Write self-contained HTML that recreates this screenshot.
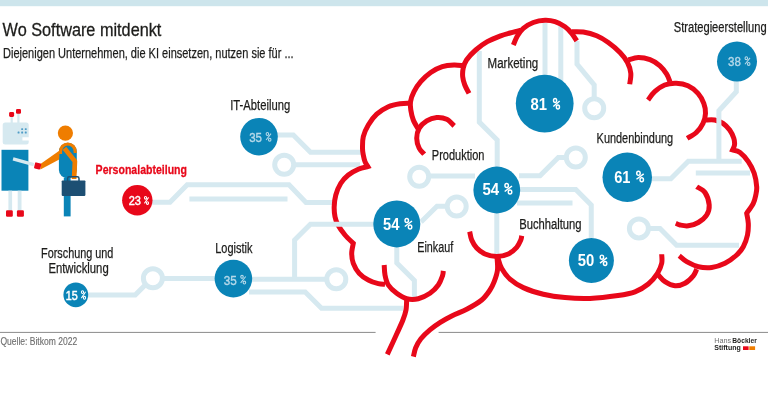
<!DOCTYPE html><html><head><meta charset="utf-8"><title>Wo Software mitdenkt</title>
<style>html,body{margin:0;padding:0;background:#fff}body{width:768px;height:402px;overflow:hidden}svg{display:block;will-change:transform}text{font-family:"Liberation Sans",sans-serif}</style></head><body>
<svg width="768" height="402" viewBox="0 0 768 402">
<rect width="768" height="402" fill="#fff"/>
<rect width="768" height="6.2" fill="#cde5ec"/>
<path d="M0,332.4 H375.6 M438.6,332.4 H768" stroke="#8a8a8a" stroke-width="1" fill="none"/>
<g fill="none" stroke="#d6e9f0" stroke-width="5.0" stroke-linejoin="miter">
<path d="M277,135 H293.3 L310.5,152.2 H361"/>
<path d="M293,164.7 H360"/>
<path d="M152,202.2 H170 L187.2,184.7 H289 L306,202.5 H333.5"/>
<path d="M189.4,198.9 H287.5"/>
<path d="M88,295 H135.2 L146.2,284"/>
<path d="M162.5,278.4 H216"/>
<path d="M251,279.2 H327.5"/>
<path d="M249,292 H305.2 L321.5,308.3 H403.3"/>
<path d="M428,176 H475"/>
<path d="M447.8,206.3 H437 L421,222"/>
<path d="M396.8,246 V263 L414.4,280.6 V297"/>
<path d="M497.2,168 V140 L479.3,122.1 V51"/>
<path d="M519,175.8 H540 L558.3,157.5 H567"/>
<path d="M519,189.5 H575.8 L591.25,205 V238"/>
<path d="M517,203 H572.5"/>
<path d="M496.8,212 V255"/>
<path d="M545,23 V76"/>
<path d="M560.8,24 V82"/>
<path d="M577,41 V64.2 L594.2,85 V99.5"/>
<path d="M651,178.7 H670.8 L688.3,161.2 H741.7"/>
<path d="M695.8,173 H750"/>
<path d="M647.8,228.6 H660 L676.6,245.2 H739"/>
<circle cx="284.2" cy="164.7" r="9.5"/>
<circle cx="152.9" cy="278.3" r="9.5"/>
<circle cx="336.3" cy="279.2" r="9.5"/>
<circle cx="419.2" cy="176.7" r="9.5"/>
<circle cx="456.7" cy="206.5" r="9.5"/>
<circle cx="575.8" cy="157.5" r="9.5"/>
<circle cx="594.2" cy="108.3" r="9.5"/>
<circle cx="638.9" cy="228.4" r="9.5"/>
</g>
<g fill="none" stroke="#e8081a" stroke-width="5" stroke-linecap="butt" stroke-linejoin="round">
<path d="M705.50,120.00 C707.03,120.00 711.78,119.45 714.70,120.00 C717.62,120.55 720.50,121.63 723.00,123.30 C725.50,124.97 727.90,127.50 729.70,130.00 C731.50,132.50 733.00,135.80 733.80,138.30 C734.60,140.80 734.72,143.05 734.50,145.00 C734.28,146.95 732.83,149.17 732.50,150.00 C733.75,150.42 737.37,150.55 740.00,152.50 C742.63,154.45 745.93,158.23 748.30,161.70 C750.67,165.17 752.80,169.13 754.20,173.30 C755.60,177.47 756.43,183.08 756.70,186.70 C756.97,190.32 756.37,192.23 755.80,195.00 C755.23,197.77 754.82,200.25 753.30,203.30 C751.78,206.35 747.80,211.63 746.70,213.30 C746.97,214.97 748.17,219.68 748.30,223.30 C748.43,226.92 748.33,231.10 747.50,235.00 C746.67,238.90 745.10,243.37 743.30,246.70 C741.50,250.03 739.75,252.23 736.70,255.00 C733.65,257.77 729.17,261.22 725.00,263.30 C720.83,265.38 716.15,266.93 711.70,267.50 C707.25,268.07 702.47,267.67 698.30,266.70 C694.13,265.73 689.88,263.52 686.70,261.70 C683.52,259.88 680.45,256.78 679.20,255.80" stroke-linejoin="miter" stroke-miterlimit="2"/>
<path d="M410.00,103.30 C408.33,103.37 403.62,103.13 400.00,103.70 C396.38,104.27 392.18,104.95 388.30,106.70 C384.42,108.45 380.03,111.15 376.70,114.20 C373.37,117.25 370.53,121.25 368.30,125.00 C366.07,128.75 364.27,132.82 363.30,136.70 C362.33,140.58 362.50,145.25 362.50,148.30 C362.50,151.35 362.88,152.77 363.30,155.00 C363.72,157.23 364.25,159.78 365.00,161.70 C365.75,163.62 367.33,165.70 367.80,166.50 C366.22,166.95 361.55,167.78 358.30,169.20 C355.05,170.62 351.22,172.65 348.30,175.00 C345.38,177.35 342.88,179.97 340.80,183.30 C338.72,186.63 336.90,191.10 335.80,195.00 C334.70,198.90 334.33,203.08 334.20,206.70 C334.07,210.32 334.37,213.65 335.00,216.70 C335.63,219.75 336.33,221.95 338.00,225.00 C339.67,228.05 342.45,231.95 345.00,235.00 C347.55,238.05 351.92,241.92 353.30,243.30 C353.03,244.97 351.70,249.97 351.70,253.30 C351.70,256.63 352.05,259.97 353.30,263.30 C354.55,266.63 356.70,270.52 359.20,273.30 C361.70,276.08 365.12,278.27 368.30,280.00 C371.48,281.73 375.52,283.00 378.30,283.70 C381.08,284.40 383.88,284.12 385.00,284.20" stroke-linejoin="miter" stroke-miterlimit="2"/>
<path d="M469.00,93.30 C468.30,91.92 465.85,87.77 464.80,85.00 C463.75,82.23 462.97,79.48 462.70,76.70 C462.43,73.92 462.57,71.08 463.20,68.30 C463.83,65.52 464.42,63.05 466.50,60.00 C468.58,56.95 472.23,53.05 475.70,50.00 C479.17,46.95 483.13,44.07 487.30,41.70 C491.47,39.33 496.92,37.25 500.70,35.80 C504.48,34.35 507.07,33.82 510.00,33.00 C512.93,32.18 516.47,31.37 518.30,30.90 C520.13,30.43 520.55,30.32 521.00,30.20"/>
<path d="M513.30,45.00 C514.00,43.47 515.83,38.58 517.50,35.80 C519.17,33.02 520.67,30.52 523.30,28.30 C525.93,26.08 529.68,23.83 533.30,22.50 C536.92,21.17 541.38,20.43 545.00,20.30 C548.62,20.17 551.67,20.63 555.00,21.70 C558.33,22.77 562.22,24.77 565.00,26.70 C567.78,28.63 569.75,30.95 571.70,33.30 C573.65,35.65 575.87,39.55 576.70,40.80"/>
<path d="M571.70,31.70 C573.63,31.75 579.13,31.32 583.30,32.00 C587.47,32.68 592.53,34.05 596.70,35.80 C600.87,37.55 604.42,39.72 608.30,42.50 C612.18,45.28 616.80,49.17 620.00,52.50 C623.20,55.83 625.70,59.03 627.50,62.50 C629.30,65.97 630.43,69.68 630.80,73.30 C631.17,76.92 629.88,82.38 629.70,84.20"/>
<path d="M628.30,60.00 C629.97,59.58 634.68,57.55 638.30,57.50 C641.92,57.45 646.38,58.32 650.00,59.70 C653.62,61.08 657.22,63.38 660.00,65.80 C662.78,68.22 665.03,71.55 666.70,74.20 C668.37,76.85 669.45,80.45 670.00,81.70"/>
<path d="M648.00,100.00 C649.12,98.62 651.92,94.20 654.70,91.70 C657.48,89.20 661.10,86.40 664.70,85.00 C668.30,83.60 672.42,83.17 676.30,83.30 C680.18,83.43 684.38,84.13 688.00,85.80 C691.62,87.47 695.37,90.38 698.00,93.30 C700.63,96.22 702.55,99.97 703.80,103.30 C705.05,106.63 705.63,109.97 705.50,113.30 C705.37,116.63 704.53,120.10 703.00,123.30 C701.47,126.50 698.93,130.00 696.30,132.50 C693.67,135.00 688.72,137.33 687.20,138.30"/>
<path d="M696.70,186.70 C698.08,187.67 702.92,189.45 705.00,192.50 C707.08,195.55 708.92,201.25 709.20,205.00 C709.48,208.75 708.52,212.08 706.70,215.00 C704.88,217.92 701.37,220.70 698.30,222.50 C695.23,224.30 691.35,225.38 688.30,225.80 C685.25,226.22 682.08,225.42 680.00,225.00 C677.92,224.58 676.50,223.58 675.80,223.30"/>
<path d="M661.70,254.20 C661.70,255.72 662.40,260.12 661.70,263.30 C661.00,266.48 659.73,269.85 657.50,273.30 C655.27,276.75 652.05,280.92 648.30,284.00 C644.55,287.08 640.05,289.88 635.00,291.80 C629.95,293.72 625.50,294.40 618.00,295.50 C610.50,296.60 598.83,298.05 590.00,298.40 C581.17,298.75 572.78,298.30 565.00,297.60 C557.22,296.90 550.25,295.87 543.30,294.20 C536.35,292.53 528.85,290.12 523.30,287.60 C517.75,285.08 513.60,282.27 510.00,279.10 C506.40,275.93 503.70,272.12 501.70,268.60 C499.70,265.08 498.62,259.77 498.00,258.00"/>
<path d="M658.30,275.00 C659.42,276.12 662.22,279.90 665.00,281.70 C667.78,283.50 671.67,285.53 675.00,285.80 C678.33,286.07 681.95,284.97 685.00,283.30 C688.05,281.63 691.35,278.15 693.30,275.80 C695.25,273.45 696.13,270.30 696.70,269.20"/>
<path d="M469.70,231.70 C470.03,233.08 470.53,237.28 471.70,240.00 C472.87,242.72 474.48,245.67 476.70,248.00 C478.92,250.33 481.67,252.57 485.00,254.00 C488.33,255.43 492.82,256.60 496.70,256.60 C500.58,256.60 504.97,255.55 508.30,254.00 C511.63,252.45 514.62,249.63 516.70,247.30 C518.78,244.97 519.97,241.92 520.80,240.00 C521.63,238.08 521.55,236.50 521.70,235.80"/>
<path d="M497.00,257.00 C497.08,259.17 497.97,265.88 497.50,270.00 C497.03,274.12 495.45,278.37 494.20,281.70 C492.95,285.03 492.08,286.95 490.00,290.00 C487.92,293.05 485.50,296.83 481.70,300.00 C477.90,303.17 472.12,306.38 467.20,309.00 C462.28,311.62 456.68,313.47 452.20,315.70 C447.72,317.93 444.02,320.03 440.30,322.40 C436.58,324.77 433.13,327.17 429.90,329.90 C426.67,332.63 423.27,335.82 420.90,338.80 C418.53,341.78 416.95,344.82 415.70,347.80 C414.45,350.78 413.78,355.22 413.40,356.70"/>
<path d="M463.20,65.80 C461.67,65.67 457.48,64.85 454.00,65.00 C450.52,65.15 446.18,65.45 442.30,66.70 C438.42,67.95 434.30,70.00 430.70,72.50 C427.10,75.00 423.48,78.50 420.70,81.70 C417.92,84.90 415.70,88.37 414.00,91.70 C412.30,95.03 411.03,98.65 410.50,101.70 C409.97,104.75 410.33,106.95 410.80,110.00 C411.27,113.05 412.05,116.80 413.30,120.00 C414.55,123.20 417.47,127.67 418.30,129.20"/>
<path d="M454.20,125.80 C452.95,124.70 449.62,120.58 446.70,119.20 C443.78,117.82 440.03,117.23 436.70,117.50 C433.37,117.77 429.62,119.00 426.70,120.80 C423.78,122.60 420.87,125.38 419.20,128.30 C417.53,131.22 416.70,134.97 416.70,138.30 C416.70,141.63 417.95,145.65 419.20,148.30 C420.45,150.95 423.37,153.22 424.20,154.20"/>
<path d="M384.20,265.00 C384.33,266.67 384.32,271.67 385.00,275.00 C385.68,278.33 386.35,281.95 388.30,285.00 C390.25,288.05 393.63,291.02 396.70,293.30 C399.77,295.58 403.10,297.80 406.70,298.70 C410.30,299.60 414.42,299.60 418.30,298.70 C422.18,297.80 426.67,295.58 430.00,293.30 C433.33,291.02 436.22,287.92 438.30,285.00 C440.38,282.08 441.67,278.17 442.50,275.80 C443.33,273.43 443.17,271.63 443.30,270.80"/>
<path d="M406.70,299.00 C406.58,300.83 406.63,306.50 406.00,310.00 C405.37,313.50 404.43,316.04 402.90,320.00 C401.37,323.96 399.40,328.02 396.80,333.75 C394.20,339.48 388.88,350.96 387.30,354.40"/>
</g>
<g fill="none" stroke="#d6e9f0" stroke-width="5.0">
<path d="M736.3,80 V91.7 L718.9,110.8 V161.2"/>
<path d="M294.6,279.2 V240 L310.4,224.2 H375"/>
</g>
<circle cx="259" cy="136.7" r="18.8" fill="#0a84b7"/>
<text x="249.20" y="141.70" font-size="13.6" font-weight="normal" fill="#b4d8e9" stroke="#b4d8e9" stroke-width="0.4" textLength="12.80" lengthAdjust="spacingAndGlyphs">35</text>
<g fill="none" stroke="#b4d8e9" stroke-width="1.10"><ellipse cx="267.39" cy="133.97" rx="1.24" ry="1.46"/><ellipse cx="269.71" cy="139.69" rx="1.24" ry="1.46"/><path d="M271.00,133.62 L266.10,140.04"/></g>
<circle cx="137.3" cy="200.3" r="15.2" fill="#e8081a"/>
<text x="128.70" y="204.90" font-size="12.6" font-weight="normal" fill="#fff" stroke="#fff" stroke-width="0.5" textLength="12.20" lengthAdjust="spacingAndGlyphs">23</text>
<g fill="none" stroke="#fff" stroke-width="1.05"><ellipse cx="145.52" cy="197.76" rx="1.09" ry="1.35"/><ellipse cx="147.48" cy="203.02" rx="1.09" ry="1.35"/><path d="M148.60,197.41 L144.40,203.37"/></g>
<circle cx="75.8" cy="294.8" r="12.4" fill="#0a84b7"/>
<text x="65.70" y="299.80" font-size="13.5" font-weight="normal" fill="#fff" stroke="#fff" stroke-width="0.5" textLength="12.00" lengthAdjust="spacingAndGlyphs">15</text>
<g fill="none" stroke="#fff" stroke-width="1.05"><ellipse cx="82.52" cy="292.11" rx="1.09" ry="1.45"/><ellipse cx="84.48" cy="297.83" rx="1.09" ry="1.45"/><path d="M85.60,291.78 L81.40,298.16"/></g>
<circle cx="233.4" cy="278.6" r="18.8" fill="#0a84b7"/>
<text x="223.80" y="284.60" font-size="13.6" font-weight="normal" fill="#b4d8e9" stroke="#b4d8e9" stroke-width="0.4" textLength="13.00" lengthAdjust="spacingAndGlyphs">35</text>
<g fill="none" stroke="#b4d8e9" stroke-width="1.10"><ellipse cx="242.01" cy="276.87" rx="1.26" ry="1.46"/><ellipse cx="244.39" cy="282.59" rx="1.26" ry="1.46"/><path d="M245.70,276.52 L240.70,282.94"/></g>
<circle cx="396.8" cy="223.9" r="23.5" fill="#0a84b7"/>
<text x="383.00" y="229.70" font-size="16.6" font-weight="bold" fill="#fff" stroke="#fff" stroke-width="0" textLength="16.40" lengthAdjust="spacingAndGlyphs">54</text>
<g fill="none" stroke="#fff" stroke-width="1.45"><ellipse cx="406.75" cy="220.56" rx="1.72" ry="2.02"/><ellipse cx="410.05" cy="226.95" rx="1.72" ry="2.02"/><path d="M412.00,221.02 L404.80,226.49"/></g>
<circle cx="496.8" cy="190" r="23.4" fill="#0a84b7"/>
<text x="482.50" y="194.70" font-size="16.6" font-weight="bold" fill="#fff" stroke="#fff" stroke-width="0" textLength="16.70" lengthAdjust="spacingAndGlyphs">54</text>
<g fill="none" stroke="#fff" stroke-width="1.45"><ellipse cx="506.67" cy="185.56" rx="1.74" ry="2.02"/><ellipse cx="510.03" cy="191.95" rx="1.74" ry="2.02"/><path d="M512.00,186.02 L504.70,191.49"/></g>
<circle cx="544.7" cy="103.6" r="28.9" fill="#0a84b7"/>
<text x="530.50" y="109.70" font-size="16.6" font-weight="bold" fill="#fff" stroke="#fff" stroke-width="0" textLength="16.50" lengthAdjust="spacingAndGlyphs">81</text>
<g fill="none" stroke="#fff" stroke-width="1.45"><ellipse cx="555.08" cy="100.56" rx="1.55" ry="2.02"/><ellipse cx="557.92" cy="106.95" rx="1.55" ry="2.02"/><path d="M559.70,101.02 L553.30,106.49"/></g>
<circle cx="627.25" cy="177.25" r="24.75" fill="#0a84b7"/>
<text x="614.20" y="182.50" font-size="16.6" font-weight="bold" fill="#fff" stroke="#fff" stroke-width="0" textLength="16.30" lengthAdjust="spacingAndGlyphs">61</text>
<g fill="none" stroke="#fff" stroke-width="1.45"><ellipse cx="638.45" cy="173.36" rx="1.72" ry="2.02"/><ellipse cx="641.75" cy="179.75" rx="1.72" ry="2.02"/><path d="M643.70,173.82 L636.50,179.29"/></g>
<circle cx="591.4" cy="260.5" r="22.5" fill="#0a84b7"/>
<text x="577.80" y="266.30" font-size="16.6" font-weight="bold" fill="#fff" stroke="#fff" stroke-width="0" textLength="16.50" lengthAdjust="spacingAndGlyphs">50</text>
<g fill="none" stroke="#fff" stroke-width="1.45"><ellipse cx="601.90" cy="257.16" rx="1.68" ry="2.02"/><ellipse cx="605.10" cy="263.55" rx="1.68" ry="2.02"/><path d="M607.00,257.62 L600.00,263.09"/></g>
<circle cx="737" cy="61.4" r="20" fill="#0a84b7"/>
<text x="728.00" y="65.90" font-size="13.6" font-weight="normal" fill="#b4d8e9" stroke="#b4d8e9" stroke-width="0.4" textLength="12.80" lengthAdjust="spacingAndGlyphs">38</text>
<g fill="none" stroke="#b4d8e9" stroke-width="1.10"><ellipse cx="746.31" cy="58.17" rx="1.26" ry="1.46"/><ellipse cx="748.69" cy="63.89" rx="1.26" ry="1.46"/><path d="M750.00,57.82 L745.00,64.24"/></g>
<text x="2.6" y="35.6" font-size="18.3" font-weight="normal" fill="#1d1d1b" textLength="158.8" lengthAdjust="spacingAndGlyphs" stroke="#1d1d1b" stroke-width="0.3">Wo Software mitdenkt</text>
<text x="3" y="57.6" font-size="14.2" font-weight="normal" fill="#1d1d1b" textLength="290.6" lengthAdjust="spacingAndGlyphs" stroke="#1d1d1b" stroke-width="0.25">Diejenigen Unternehmen, die KI einsetzen, nutzen sie für ...</text>
<text x="230.2" y="110.3" font-size="14" font-weight="normal" fill="#1d1d1b" textLength="60" lengthAdjust="spacingAndGlyphs" stroke="#1d1d1b" stroke-width="0.25">IT-Abteilung</text>
<text x="95.6" y="173.75" font-size="13.6" font-weight="bold" fill="#e8081a" textLength="91.4" lengthAdjust="spacingAndGlyphs" stroke="#e8081a" stroke-width="0.3">Personalabteilung</text>
<text x="41" y="258.3" font-size="14" font-weight="normal" fill="#1d1d1b" textLength="72.4" lengthAdjust="spacingAndGlyphs" stroke="#1d1d1b" stroke-width="0.25">Forschung und</text>
<text x="48.4" y="273.3" font-size="14" font-weight="normal" fill="#1d1d1b" textLength="60.3" lengthAdjust="spacingAndGlyphs" stroke="#1d1d1b" stroke-width="0.25">Entwicklung</text>
<text x="215.2" y="252.5" font-size="14" font-weight="normal" fill="#1d1d1b" textLength="37.2" lengthAdjust="spacingAndGlyphs" stroke="#1d1d1b" stroke-width="0.25">Logistik</text>
<text x="487.6" y="67.9" font-size="14" font-weight="normal" fill="#1d1d1b" textLength="50.6" lengthAdjust="spacingAndGlyphs" stroke="#1d1d1b" stroke-width="0.25">Marketing</text>
<text x="431.8" y="159.6" font-size="14" font-weight="normal" fill="#1d1d1b" textLength="52.7" lengthAdjust="spacingAndGlyphs" stroke="#1d1d1b" stroke-width="0.25">Produktion</text>
<text x="417.3" y="251.5" font-size="14" font-weight="normal" fill="#1d1d1b" textLength="35.9" lengthAdjust="spacingAndGlyphs" stroke="#1d1d1b" stroke-width="0.25">Einkauf</text>
<text x="519.2" y="229.1" font-size="14" font-weight="normal" fill="#1d1d1b" textLength="62.4" lengthAdjust="spacingAndGlyphs" stroke="#1d1d1b" stroke-width="0.25">Buchhaltung</text>
<text x="596.6" y="143.3" font-size="14" font-weight="normal" fill="#1d1d1b" textLength="76.6" lengthAdjust="spacingAndGlyphs" stroke="#1d1d1b" stroke-width="0.25">Kundenbindung</text>
<text x="673.7" y="32" font-size="14" font-weight="normal" fill="#1d1d1b" textLength="93" lengthAdjust="spacingAndGlyphs" stroke="#1d1d1b" stroke-width="0.25">Strategieerstellung</text>
<text x="0.4" y="345.2" font-size="10.8" font-weight="normal" fill="#6f6f6f" textLength="76.8" lengthAdjust="spacingAndGlyphs" stroke="#6f6f6f" stroke-width="0.15">Quelle: Bitkom 2022</text>
<!-- robot -->
<g>
<rect x="10.6" y="115" width="2.2" height="8" fill="#d6e9f0"/>
<rect x="17.3" y="112" width="2.2" height="11" fill="#d6e9f0"/>
<rect x="9.1" y="112" width="5" height="4.9" rx="1.3" fill="#e8081a"/>
<rect x="16" y="108.9" width="5" height="4.9" rx="1.3" fill="#e8081a"/>
<path d="M5.2,122.4 H26.2 a2.5,2.5 0 0 1 2.5,2.5 V137.3 H22.4 V140.4 H28.7 V142 a2.5,2.5 0 0 1 -2.5,2.5 H5.2 a2.5,2.5 0 0 1 -2.5,-2.5 V124.9 a2.5,2.5 0 0 1 2.5,-2.5 Z" fill="#d6e9f0"/>
<g fill="#4f9cc6"><rect x="21.2" y="128.2" width="1.9" height="1.9" rx="0.5"/><rect x="24.8" y="128.2" width="1.9" height="1.9" rx="0.5"/><rect x="21.2" y="131.6" width="1.9" height="1.9" rx="0.5"/><rect x="24.8" y="131.6" width="1.9" height="1.9" rx="0.5"/><rect x="17.6" y="131.6" width="1.9" height="1.9" rx="0.5"/></g>
<rect x="1.5" y="149.8" width="26.9" height="40.9" fill="#0a84b7"/>
<path d="M13.5,157.2 L34.2,162.9 L33.3,166.2 L12.6,160.5 Z" fill="#d6e9f0"/>
<rect x="8.4" y="190.7" width="3.7" height="20" fill="#d6e9f0"/>
<rect x="17.7" y="190.7" width="3.8" height="20" fill="#d6e9f0"/>
<rect x="6" y="210.3" width="6.8" height="6.4" rx="1.2" fill="#e8081a"/>
<rect x="16.9" y="210.3" width="7" height="6.4" rx="1.2" fill="#e8081a"/>
</g>
<!-- person -->
<g>
<circle cx="65.4" cy="133.1" r="7.6" fill="#ef7d00"/>
<path d="M58.9,152 a8.95,9.3 0 0 1 17.9,0 V170 a8.95,8.5 0 0 1 -17.9,0 Z" fill="#0a84b7"/>
<rect x="63.8" y="178" width="6.8" height="38.4" fill="#0a84b7"/>
<path d="M60.5,154 V151.6 a7.35,7.6 0 0 1 14.7,0 V153" fill="none" stroke="#ef7d00" stroke-width="3.2"/>
<path d="M64.4,148.3 L74.9,161.3 L74.1,179" fill="none" stroke="#ef7d00" stroke-width="4.7" stroke-linejoin="round"/>
<path d="M40.4,163.9 L59.6,150.6 L59.2,159.4 L40.4,169.4 Z" fill="#ef7d00"/>
<rect x="34.5" y="162.8" width="6.3" height="6.3" rx="1" transform="rotate(14 37.6 166)" fill="#e8081a"/>
<path d="M67.6,181 v-2.6 a1.6,1.6 0 0 1 1.6,-1.6 h8.2 a1.6,1.6 0 0 1 1.6,1.6 v2.6" fill="none" stroke="#1d4f73" stroke-width="1.5"/>
<rect x="61.7" y="180.5" width="23.7" height="15.4" rx="0.8" fill="#1d4f73"/>
</g>
<!-- logo -->
<g>
<text x="714.25" y="343" font-size="6.6" fill="#6f6f6f" textLength="17" lengthAdjust="spacingAndGlyphs">Hans</text>
<text x="732.3" y="343" font-size="6.6" font-weight="bold" fill="#1d1d1b" textLength="24.5" lengthAdjust="spacingAndGlyphs">Böckler</text>
<text x="714.25" y="350" font-size="6.6" font-weight="bold" fill="#1d1d1b" textLength="26.5" lengthAdjust="spacingAndGlyphs">Stiftung</text>
<rect x="743" y="346.3" width="5.6" height="3.7" fill="#e8081a"/>
<rect x="749.3" y="346.3" width="5.8" height="3.7" fill="#ef7d00"/>
</g>

</svg></body></html>
